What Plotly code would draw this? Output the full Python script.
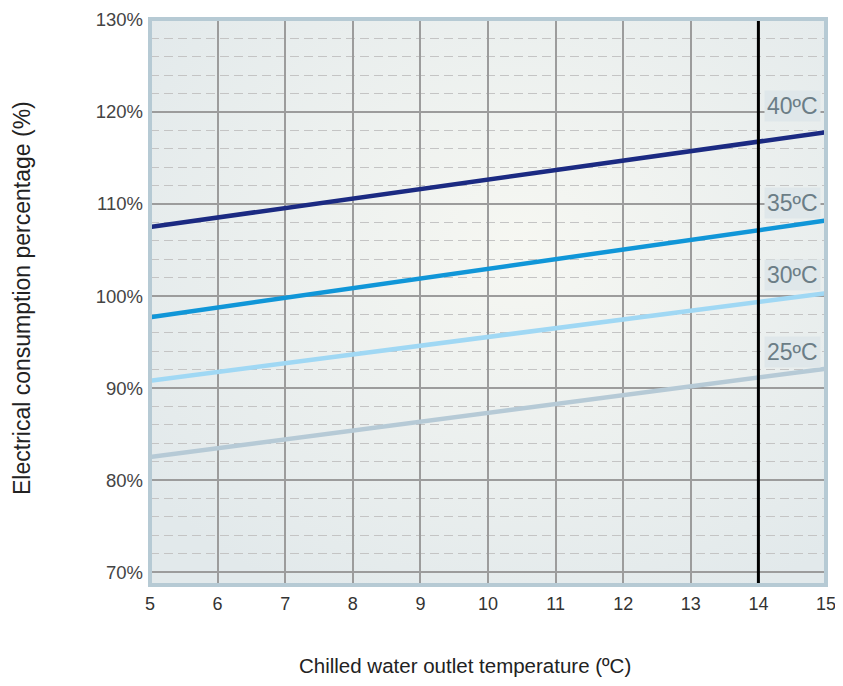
import plotly.graph_objects as go
import base64

# Data
x_temps = [5, 15]
series_names = ["40ºC", "35ºC", "30ºC", "25ºC"]
series_values = {
    "40ºC": [107.5, 117.8],
    "35ºC": [97.7, 108.2],
    "30ºC": [90.8, 100.3],
    "25ºC": [82.5, 92.1],
}
series_colors = {
    "40ºC": "#1b2a82",
    "35ºC": "#1096d8",
    "30ºC": "#a0d8f4",
    "25ºC": "#b6cad6",
}
label_y = {"40ºC": 120.6, "35ºC": 110.1, "30ºC": 102.3, "25ºC": 93.9}
x_ticks = list(range(5, 16))
y_ticks = [70, 80, 90, 100, 110, 120, 130]
y_ticklabels = [f"{v}%" for v in y_ticks]
ref_x = 14
x_title = "Chilled water outlet temperature (ºC)"
y_title = "Electrical consumption percentage (%)"

fig = go.Figure()

svg = """<svg xmlns='http://www.w3.org/2000/svg' width='676' height='570' preserveAspectRatio='none'>
<defs><radialGradient id='g' cx='55%' cy='40%' r='70%'>
<stop offset='0%' stop-color='#f6f7f2'/><stop offset='100%' stop-color='#e2e9eb'/></radialGradient></defs>
<rect width='676' height='570' fill='url(#g)'/></svg>"""
src = "data:image/svg+xml;base64," + base64.b64encode(svg.encode()).decode()
fig.add_layout_image(dict(source=src, xref="paper", yref="paper", x=0, y=1, sizex=1, sizey=1,
                          sizing="stretch", layer="below", xanchor="left", yanchor="top"))

for name in series_names:
    fig.add_trace(go.Scatter(x=x_temps, y=series_values[name], mode="lines",
                             line=dict(color=series_colors[name], width=4.5),
                             name=name, showlegend=False, hoverinfo="skip"))

fig.add_shape(type="line", x0=ref_x, x1=ref_x, y0=0, y1=1, xref="x", yref="paper",
              line=dict(color="black", width=3), layer="above")

for name in series_names:
    fig.add_annotation(x=14.5, y=label_y[name], xref="x", yref="y", text=name, showarrow=False,
                       font=dict(family="Liberation Sans", size=23, color="#6b7d86"),
                       bgcolor="#dfe7ea", borderpad=2)

fig.add_shape(type="rect", x0=0, x1=1, y0=0, y1=1, xref="paper", yref="paper",
              line=dict(color="#b6cad4", width=4), layer="above")

fig.add_annotation(text=x_title, xref="paper", yref="paper", x=0.466, y=0, yshift=-80,
                   showarrow=False, yanchor="middle",
                   font=dict(family="Liberation Sans", size=20.5, color="#222222"))
fig.add_annotation(text=y_title, xref="paper", yref="paper", x=0, xshift=-128, y=0.5, yshift=4,
                   textangle=-90, showarrow=False, xanchor="center",
                   font=dict(family="Liberation Sans", size=23, color="#222222"))

fig.update_layout(
    width=835, height=678,
    margin=dict(l=142, r=17, t=11, b=101),
    paper_bgcolor="white", plot_bgcolor="rgba(0,0,0,0)",
    font=dict(family="Liberation Sans", color="#333333"),
)
fig.update_xaxes(range=[5, 15], tickvals=x_ticks, ticks="", showline=False, zeroline=False,
                 automargin=False,
                 showgrid=True, gridcolor="#9c9c9c", gridwidth=2,
                 tickfont=dict(size=18, color="#333333"), ticklabelstandoff=6)
fig.update_yaxes(range=[68.6, 130.1], tickvals=y_ticks, ticktext=y_ticklabels, ticks="",
                 showline=False, zeroline=False, ticklabeloverflow="allow", automargin=False,
                 showgrid=True, gridcolor="#9c9c9c", gridwidth=1.5,
                 minor=dict(dtick=2, tick0=70, showgrid=True, gridcolor="#c4c4c4",
                            griddash="9px,5px", gridwidth=1.3),
                 tickfont=dict(size=18.5, color="#444444"), ticklabelstandoff=6)

fig.write_html("out.html")
